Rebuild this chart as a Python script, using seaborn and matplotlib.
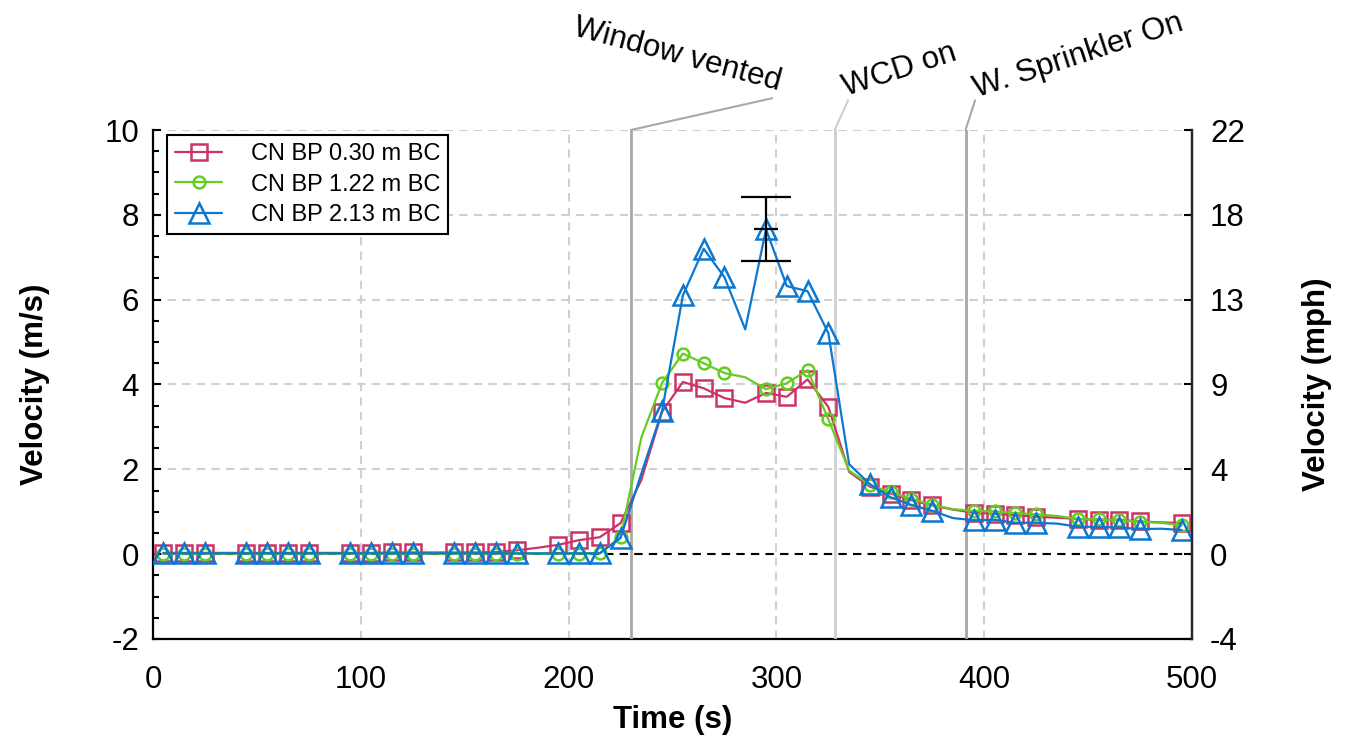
import matplotlib
matplotlib.use("Agg")
import matplotlib.pyplot as plt
from matplotlib.ticker import MultipleLocator
import pandas as pd
import seaborn as sns

# Measured air velocity at the bedroom (BP) probe, three heights
time_s = [5, 15, 25, 35, 45, 55, 65, 75, 85, 95,
          105, 115, 125, 135, 145, 155, 165, 175, 185, 195,
          205, 215, 225, 235, 245, 255, 265, 275, 285, 295,
          305, 315, 325, 335, 345, 355, 365, 375, 385, 395,
          405, 415, 425, 435, 445, 455, 465, 475, 485, 495]

v_030 = [0.03, 0.03, 0.03, 0.03, 0.03, 0.03, 0.03, 0.03, 0.03, 0.03,
         0.03, 0.04, 0.04, 0.04, 0.04, 0.04, 0.05, 0.09, 0.15, 0.22,
         0.33, 0.40, 0.73, 1.75, 3.36, 4.06, 3.91, 3.68, 3.57, 3.80,
         3.71, 4.12, 3.47, 1.94, 1.59, 1.43, 1.27, 1.15, 1.05, 0.98,
         0.95, 0.92, 0.88, 0.86, 0.83, 0.81, 0.81, 0.77, 0.75, 0.73]

v_122 = [0.01, 0.01, 0.01, 0.01, 0.01, 0.01, 0.01, 0.01, 0.01, 0.01,
         0.01, 0.01, 0.01, 0.01, 0.01, 0.01, 0.01, 0.01, 0.01, 0.01,
         0.01, 0.02, 0.40, 2.75, 4.04, 4.73, 4.50, 4.27, 4.17, 3.89,
         4.03, 4.34, 3.18, 1.97, 1.63, 1.46, 1.30, 1.16, 1.06, 1.02,
         1.01, 0.97, 0.94, 0.90, 0.83, 0.82, 0.80, 0.76, 0.74, 0.68]

v_213 = [0.02, 0.02, 0.02, 0.02, 0.02, 0.02, 0.02, 0.02, 0.02, 0.02,
         0.02, 0.02, 0.02, 0.02, 0.02, 0.02, 0.02, 0.02, 0.02, 0.02,
         0.02, 0.02, 0.38, 1.90, 3.38, 6.10, 7.20, 6.53, 5.30, 7.66,
         6.32, 6.20, 5.21, 2.12, 1.65, 1.34, 1.16, 1.02, 0.85, 0.80,
         0.81, 0.74, 0.74, 0.72, 0.65, 0.64, 0.63, 0.59, 0.60, 0.57]

series_labels = ["CN BP 0.30 m BC", "CN BP 1.22 m BC", "CN BP 2.13 m BC"]

# uncertainty bar on the peak reading
peak_time = 295
peak_mean = 7.66
peak_err = 0.76

event_times = [230, 328, 391]
event_labels = ["Window vented", "WCD on", "W. Sprinkler On"]

x_ticks = [0, 100, 200, 300, 400, 500]
y_ticks = [-2, 0, 2, 4, 6, 8, 10]
MS_TO_MPH = 2.23694

df = pd.DataFrame({"Time": time_s, "0.30": v_030, "1.22": v_122, "2.13": v_213})

sns.set_style("white")
plt.rcParams["font.family"] = ["Liberation Sans", "DejaVu Sans"]
plt.rcParams["axes.unicode_minus"] = False
plt.rcParams["text.color"] = "black"
plt.rcParams["axes.labelcolor"] = "black"
plt.rcParams["xtick.color"] = "black"
plt.rcParams["ytick.color"] = "black"

fig, ax = plt.subplots(figsize=(13.5, 7.45), dpi=100)
fig.subplots_adjust(left=0.1133, right=0.883, bottom=0.1423, top=0.8255)

# markers are left off every fifth reading, as in the original figure
mark_idx = [i for i in range(len(time_s)) if i % 5 != 3]

styles = [("0.30", "#cc3366", "s", 11), ("1.22", "#66cc22", "o", 8.5), ("2.13", "#0a78d0", "^", 14)]
for (col, color, mk, ms), label in zip(styles, series_labels):
    sns.lineplot(data=df, x="Time", y=col, ax=ax, color=color, lw=1.6,
                 marker=mk, markersize=ms, markevery=mark_idx,
                 mfc="none", markeredgecolor=color, markeredgewidth=1.8,
                 estimator=None, sort=False, label=label, zorder=4)

ax.errorbar([peak_time], [peak_mean], yerr=[peak_err], fmt="none",
            ecolor="black", elinewidth=1.6, capsize=18, capthick=1.6, zorder=5)
ax.plot([peak_time], [peak_mean], marker="_", ms=17, mew=1.6, color="black", zorder=5)

ax.axhline(0, color="black", lw=1.5, ls=(0, (4, 3)), zorder=2)

# event markers with leader lines to rotated labels above the frame
event_colors = ["#a8a8a8", "#cfcfcf", "#a8a8a8"]
leader_ends = [(298, 10.75), (334.5, 10.7), (395.6, 10.7)]
text_pos = [(300.8, 10.94), (333.5, 10.8), (396.5, 10.78)]
text_rot = [-15, 18, 18]
text_ha = ["right", "left", "left"]
for t, lab, c, le, tp, rot, ha in zip(event_times, event_labels, event_colors,
                                      leader_ends, text_pos, text_rot, text_ha):
    ax.axvline(t, color=c, lw=2, zorder=3)
    ax.plot([t, le[0]], [10, le[1]], color=c, lw=1.5, clip_on=False, zorder=3)
    ax.text(tp[0], tp[1], lab, rotation=rot, rotation_mode="anchor",
            ha=ha, va="baseline", fontsize=22.5, clip_on=False)

ax.set_xlim(0, 500)
ax.set_ylim(-2, 10)
ax.set_xticks(x_ticks)
ax.set_yticks(y_ticks)
ax.xaxis.set_minor_locator(MultipleLocator(20))
ax.yaxis.set_minor_locator(MultipleLocator(0.5))
ax.grid(True, which="major", color="#d0d0d0", lw=1.5, ls=(0, (4, 3)))
ax.set_axisbelow(True)

for side in ["left", "right", "bottom"]:
    ax.spines[side].set_color("black")
    ax.spines[side].set_linewidth(1.6)
ax.spines["top"].set_visible(False)

ax.tick_params(which="both", direction="in", color="black", width=1.5,
               top=False, right=False, labelsize=22.5)
ax.tick_params(which="major", length=6)
ax.tick_params(which="minor", length=4)
ax.tick_params(axis="x", pad=19)
ax.tick_params(axis="y", pad=10)

ax.set_xlabel("Time (s)", fontsize=22.5, fontweight="bold")
ax.set_ylabel("Velocity (m/s)", fontsize=22.5, fontweight="bold")
ax.xaxis.set_label_coords(0.5, -0.13)
ax.yaxis.set_label_coords(-0.099, 0.5)

ax2 = ax.twinx()
ax2.set_ylim(ax.get_ylim())
ax2.set_yticks(y_ticks)
ax2.set_yticklabels([str(round(v * MS_TO_MPH)) for v in y_ticks])
ax2.tick_params(direction="in", length=6, width=1.5, labelsize=22.5, pad=13)
ax2.spines["top"].set_visible(False)
ax2.spines["right"].set_linewidth(1.6)
ax2.spines["left"].set_visible(False)
ax2.spines["bottom"].set_visible(False)
ax2.set_ylabel("Velocity (mph)", fontsize=22.5, fontweight="bold")
ax2.yaxis.set_label_coords(1.106, 0.5)
ax2.grid(False)

leg = ax.legend(loc="upper left", bbox_to_anchor=(0.0135, 0.99), borderaxespad=0,
                fontsize=17, frameon=True, fancybox=False, framealpha=1,
                handlelength=2.0, handletextpad=1.2, labelspacing=0.35, borderpad=0.35)
leg.get_frame().set_edgecolor("black")
leg.get_frame().set_linewidth(1.5)

fig.savefig("out.png", dpi=100)
